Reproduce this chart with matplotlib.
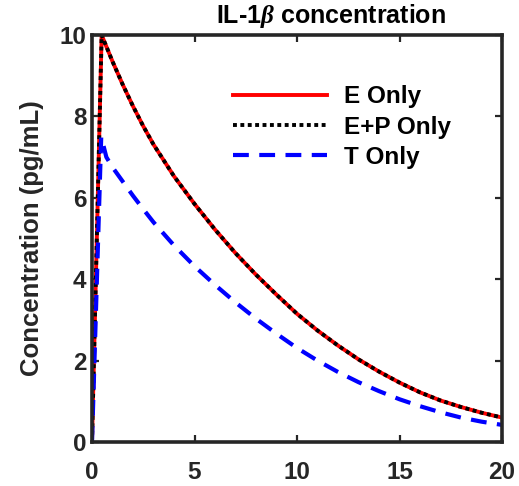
import matplotlib
matplotlib.use("Agg")
import matplotlib.pyplot as plt

plt.rcParams['font.family'] = ['Liberation Sans', 'DejaVu Sans']
plt.rcParams['font.weight'] = 'bold'
plt.rcParams['mathtext.fontset'] = 'custom'
plt.rcParams['mathtext.it'] = 'Liberation Serif:italic'
plt.rcParams['mathtext.rm'] = 'Liberation Sans:bold'

# time points (days)
t_e = [0, 0.47, 1, 1.5, 2, 2.5, 3, 4, 5, 6, 7, 8, 9, 10, 11, 12, 13, 14, 15, 16, 17, 18, 19, 20]
e_only = [0, 10, 9.35, 8.78, 8.25, 7.76, 7.31, 6.53, 5.85, 5.22, 4.64, 4.11, 3.62, 3.15,
          2.74, 2.37, 2.03, 1.73, 1.46, 1.22, 1.02, 0.86, 0.72, 0.6]
ep_only = [0, 10, 9.35, 8.78, 8.25, 7.76, 7.31, 6.53, 5.85, 5.22, 4.64, 4.11, 3.62, 3.15,
           2.74, 2.37, 2.03, 1.73, 1.46, 1.22, 1.02, 0.86, 0.72, 0.6]
t_t = [0, 0.45, 0.7, 1, 1.5, 2, 2.5, 3, 4, 5, 6, 7, 8, 9, 10, 11, 12, 13, 14, 15, 16, 17, 18, 19, 20]
t_only = [0, 7.5, 7.0, 6.75, 6.4, 6.05, 5.72, 5.4, 4.83, 4.32, 3.86, 3.43, 3.03, 2.66, 2.31,
          2.0, 1.72, 1.47, 1.25, 1.05, 0.88, 0.73, 0.6, 0.5, 0.42]

labels = ['E Only', 'E+P Only', 'T Only']
xticks = [0, 5, 10, 15, 20]
yticks = [0, 2, 4, 6, 8, 10]

fig = plt.figure(figsize=(5.19, 4.86), dpi=100)
ax = fig.add_axes([92/519, 44/486, 410/519, 407/486])

ax.plot(t_e, e_only, color='#ff0000', lw=2.8, ls='-', label=labels[0])
ax.plot(t_e, ep_only, color='black', lw=2.8, ls=(0, (1.0, 0.9)), label=labels[1])
ax.plot(t_t, t_only, color='#0000ff', lw=3.0, ls=(0, (3.8, 2.5)), label=labels[2])

ax.set_xlim(0, 20)
ax.set_ylim(0, 10)
ax.set_xticks(xticks)
ax.set_yticks(yticks)
ax.tick_params(direction='in', length=5, width=1.6, top=True, right=True,
               labelsize=17.5, colors='#262626')
ax.tick_params(axis='x', pad=14)
ax.tick_params(axis='y', pad=4)
for lab in ax.get_xticklabels() + ax.get_yticklabels():
    lab.set_fontweight('bold')
    lab.set_color('#262626')
for s in ax.spines.values():
    s.set_linewidth(2.6)
    s.set_color('#262626')

ax.set_ylabel('Concentration (pg/mL)', fontsize=18.5, fontweight='bold', color='#262626', labelpad=11)
ax.set_title(r'IL-1$\beta$ concentration', fontsize=18, fontweight='bold', pad=9, x=0.583)

leg = ax.legend(loc='upper right', bbox_to_anchor=(0.93, 0.93), frameon=False,
                fontsize=17.5, handlelength=3.9, handletextpad=0.7, labelspacing=0.3)
for txt in leg.get_texts():
    txt.set_fontweight('bold')

fig.savefig('out.png', dpi=100)
